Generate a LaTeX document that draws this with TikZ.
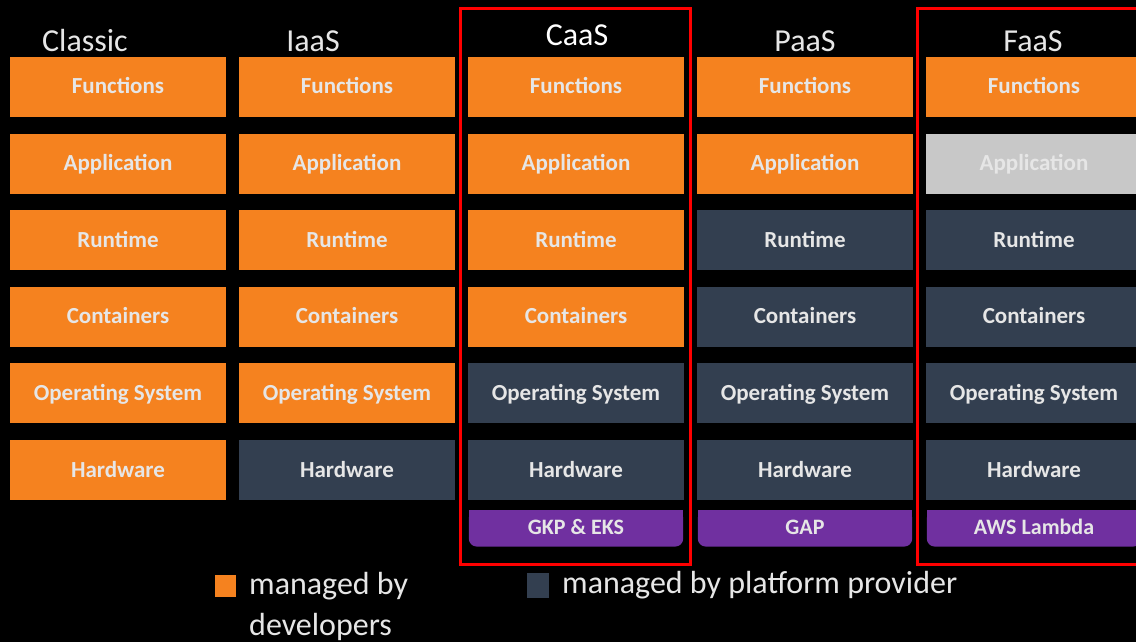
\documentclass[tikz,border=0pt]{standalone}
\usepackage{fontspec}
\setmainfont{Carlito}
\usepackage{tikz}
\usetikzlibrary{%
    positioning,
    backgrounds
}

\definecolor{devorange}{HTML}{F5821F}
\definecolor{provslate}{HTML}{333F50}
\definecolor{idlegray}{HTML}{C8C8C8}
\definecolor{vendorpurple}{HTML}{7030A0}
\definecolor{labelgray}{HTML}{E6E6E6}

\begin{document}
\begin{tikzpicture}[x=1pt, y=-1pt
  , box/.style={minimum width=\bw, minimum height=\bh, inner sep=0,
      text height=14pt, text depth=0pt,
      text=labelgray, font=\fontsize{23}{26}\selectfont\bfseries}
  , dev/.style={fill=devorange}
  , prov/.style={fill=provslate}
  , idle/.style={fill=idlegray}
  , vendor/.style={minimum width=\vw, minimum height=\vh, inner sep=0,
      text height=12pt, text depth=0pt,
      text=labelgray, font=\fontsize{22}{26}\selectfont\bfseries}
  , frame/.style={draw=red, line width=3pt}
  , head/.style={anchor=base, text=labelgray, font=\fontsize{32}{36}\selectfont}
  , key/.style={inner sep=0, text=labelgray, font=\fontsize{32}{41}\selectfont}
  ]
  \def\bw{216pt}
  \def\bh{60pt}
  \def\vw{214pt}
  \def\vh{36pt}

  \useasboundingbox (0,0) rectangle (1136,642);
  \begin{scope}[on background layer]
    \fill[black] (0,0) rectangle (1136,642);
  \end{scope}

  % the six layers of every model
  \foreach \k [count=\c] in {6,5,4,2,1}
    \foreach \lbl/\id [count=\r] in {Functions/fun, Application/app,
        Runtime/run, Containers/con, Operating System/os, Hardware/hw}
    {
      \ifnum\r>\k \def\kind{prov}\else\def\kind{dev}\fi
      \ifnum\c=5 \ifnum\r=2 \def\kind{idle}\fi\fi
      \node[box, \kind] (\id\c) at ({118+229*(\c-1)}, {87+76.6*(\r-1)}) {\lbl};
    }

  \node[head] (hclassic) at (85,52) {Classic};
  \node[head] (hiaas) at (313,52) {IaaS};
  \node[head, text=white] (hcaas) at (577,46) {CaaS};
  \node[head] (hpaas) at (805,52) {PaaS};
  \node[head] (hfaas) at (1033,52) {FaaS};

  % products
  \foreach \c/\lbl in {3/GKP \& EKS, 4/GAP, 5/AWS Lambda}
  {
    \node[vendor, below=10pt of hw\c] (v\c) {\lbl};
    \begin{scope}[on background layer]
      \fill[vendorpurple, rounded corners=8pt] (v\c.north west) rectangle (v\c.south east);
      \fill[vendorpurple] (v\c.north west) rectangle (v\c.east);
    \end{scope}
  }

  \draw[frame] ([shift={(-7,-48)}]fun3.north west) rectangle ([shift={(7,18)}]v3.south east);
  \draw[frame] ([shift={(-8,-48)}]fun5.north west) rectangle ([shift={(7,18)}]v5.south east);

  % legend
  \node[fill=devorange, minimum width=21pt, minimum height=22pt, inner sep=0]
    (kdev) at (225,586) {};
  \node[key, anchor=north west, align=left] (ldev) at (249,572)
    {managed by\\developers};
  \node[fill=provslate, minimum width=22pt, minimum height=25pt, inner sep=0]
    (kprov) at (538,585) {};
  \node[key, anchor=base west] (lprov) at (562,593) {managed by platform provider};
\end{tikzpicture}
\end{document}
